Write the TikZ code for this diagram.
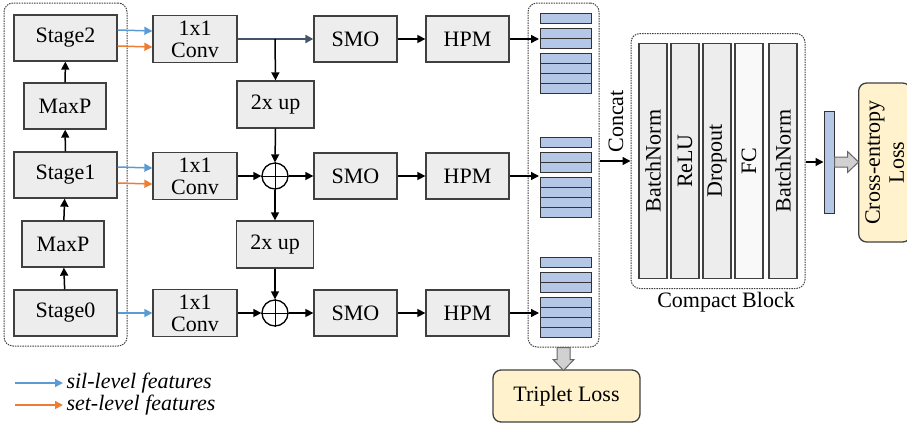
\documentclass[tikz,border=0pt]{standalone}
\usepackage{fontspec}
\setmainfont{Liberation Serif}
\usetikzlibrary{arrows.meta}

\definecolor{boxgray}{HTML}{EDEDED}
\definecolor{barblue}{HTML}{B4C7E7}
\definecolor{silblue}{HTML}{5B9BD5}
\definecolor{setorange}{HTML}{ED7D31}
\definecolor{lossyellow}{HTML}{FFF2CC}
\definecolor{slate}{HTML}{44546A}

\tikzset{
  txt/.style={font=\fontsize{22}{22}\selectfont},
  blk/.style={txt, draw=black!75, fill=boxgray, line width=1.3pt, inner sep=0pt,
    minimum height=46pt, align=center},
  grp/.style={draw=black!75, dash pattern=on 1.5pt off 1pt, rounded corners=9pt,
    line width=1pt, minimum width=#1},
  bar/.style={draw=black!80, fill=barblue, line width=1pt},
  loss/.style={txt, draw=black!75, fill=lossyellow, line width=1.3pt,
    rounded corners=8pt, inner sep=0pt, align=center},
  arr/.style={-{Triangle[length=8pt,width=8pt]}, line width=1.5pt},
  silarr/.style={arr, silblue},
  setarr/.style={arr, setorange},
  fatarr/.style={draw=black!60, fill=black!18, line width=1pt, line join=miter},
}

\begin{document}
\begin{tikzpicture}[x=1pt, y=-1pt]
\useasboundingbox (0,0) rectangle (907,424);

% backbone
\node[grp=123pt, minimum height=343pt] (bb) at (65.5,174.5) {};
\node[blk, minimum width=103pt] (stage2) at (65.5,38) {Stage2};
\node[blk, minimum width=82pt] (maxp1) at (65,106) {MaxP};
\node[blk, minimum width=103pt] (stage1) at (65.5,175) {Stage1};
\node[blk, minimum width=82pt] (maxp0) at (63,244) {MaxP};
\node[blk, minimum width=103pt] (stage0) at (65.5,313) {Stage0};
\draw[arr] (stage0) -- (maxp0);
\draw[arr] (maxp0) -- (stage1);
\draw[arr] (stage1) -- (maxp1);
\draw[arr] (maxp1) -- (stage2);

% pyramid
\node[blk, minimum width=84pt, minimum height=47pt] (conv2) at (195,39) {1x1\\Conv};
\node[blk, minimum width=84pt, minimum height=47pt] (conv1) at (195,176) {1x1\\Conv};
\node[blk, minimum width=84pt, minimum height=47pt] (conv0) at (195,313) {1x1\\Conv};
\draw[silarr] ([yshift=8pt]stage2.east) -- ([yshift=8pt]conv2.west);
\draw[setarr] ([yshift=-8pt]stage2.east) -- ([yshift=-8pt]conv2.west);
\draw[silarr] ([yshift=8pt]stage1.east) -- ([yshift=8pt]conv1.west);
\draw[setarr] ([yshift=-8pt]stage1.east) -- ([yshift=-8pt]conv1.west);
\draw[silarr] (stage0.east) -- (conv0.west);

\node[blk, minimum width=77pt, minimum height=47pt] (up2) at (275.5,104.5) {2x up};
\node[blk, minimum width=77pt, minimum height=47pt] (up1) at (275,244.5) {2x up};
\node[circle, draw, line width=1.3pt, minimum size=26pt, inner sep=0pt] (sum1) at (275,176) {};
\node[circle, draw, line width=1.3pt, minimum size=26pt, inner sep=0pt] (sum0) at (275,313) {};
\draw[line width=1pt] (sum1.north) -- (sum1.south) (sum1.west) -- (sum1.east);
\draw[line width=1pt] (sum0.north) -- (sum0.south) (sum0.west) -- (sum0.east);

\node[blk, minimum width=83pt] (smo2) at (355.5,39) {SMO};
\node[blk, minimum width=83pt] (smo1) at (355.5,176) {SMO};
\node[blk, minimum width=83pt] (smo0) at (355.5,313) {SMO};
\node[blk, minimum width=83pt] (hpm2) at (467.5,39) {HPM};
\node[blk, minimum width=83pt] (hpm1) at (467.5,176) {HPM};
\node[blk, minimum width=83pt] (hpm0) at (467.5,313) {HPM};

\coordinate (br2) at (275,39);
\draw[arr, slate, line width=2.2pt] (conv2.east) -- (smo2.west);
\draw[arr] (br2) -- (up2.north);
\draw[arr] (up2.south) -- (sum1.north);
\draw[arr] (conv1.east) -- (sum1.west);
\draw[arr] (sum1.east) -- (smo1.west);
\draw[arr] (sum1.south) -- (up1.north);
\draw[arr] (up1.south) -- (sum0.north);
\draw[arr] (conv0.east) -- (sum0.west);
\draw[arr] (sum0.east) -- (smo0.west);
\draw[arr] (smo2) -- (hpm2);
\draw[arr] (smo1) -- (hpm1);
\draw[arr] (smo0) -- (hpm0);

% feature stripes
\node[grp=71pt, minimum height=344pt] (cc) at (563.5,175) {};
\foreach \t in {13,137,257}{
  \draw[bar] (540,\t) rectangle +(51,10);
  \foreach \k in {0,1}
    \draw[bar] (540,\t+15+10*\k) rectangle +(51,10);
  \foreach \k in {0,...,3}
    \draw[bar] (540,\t+40+10*\k) rectangle +(51,10);
}
\coordinate (in2) at (539,39);
\coordinate (in1) at (539,176);
\coordinate (in0) at (539,313);
\draw[arr] (hpm2.east) -- (in2);
\draw[arr] (hpm1.east) -- (in1);
\draw[arr] (hpm0.east) -- (in0);

% compact block
\node[grp=174pt, minimum height=255pt] (cb) at (718,161) {};
\node[txt, anchor=north] (cblabel) at (726,289) {Compact Block};
\foreach \x/\name/\lbl/\fl in {653/bn1/BatchNorm/boxgray, 685/relu/ReLU/boxgray,
    717/drop/Dropout/boxgray, 749/fc/FC/boxgray!35, 783/bn2/BatchNorm/boxgray}
  \node[blk, fill=\fl, rotate=90, minimum width=235pt, minimum height=28pt] (\name) at (\x,161) {\lbl};
\draw[arr] (cb.west -| cc.east) -- (cb.west);
\node[txt, rotate=90, anchor=west] (concat) at (616,156) {Concat};

% outputs
\node[bar, minimum width=10pt, minimum height=102pt, inner sep=0pt] (emb) at (829,162) {};
\draw[arr] (cb.east |- emb.west) -- (emb.west);
\node[loss, rotate=90, minimum width=159pt, minimum height=52pt, anchor=north, font=\fontsize{22}{24}\selectfont] (ce) at (858,162.5) {Cross-entropy\\Loss};
\draw[fatarr] (emb.east) ++(0,-5) -- ++(13,0) -- ++(0,-5.5) -- ++(11,10.5)
  -- ++(-11,10.5) -- ++(0,-5.5) -- ++(-13,0) -- cycle;
\node[loss, minimum width=147pt, minimum height=52pt] (trip) at (566.5,396) {Triplet Loss};
\draw[fatarr] (cc.south) ++(-6.5,0) -- ++(0,12) -- ++(-4,0) -- ++(10.5,11)
  -- ++(10.5,-11) -- ++(-4,0) -- ++(0,-12) -- cycle;

% legend
\coordinate (lg1) at (15,383);
\coordinate (lg2) at (15,405);
\node[txt, anchor=west, font=\fontsize{22}{22}\selectfont\itshape] (lgsil) at (63,383) {sil-level features};
\node[txt, anchor=west, font=\fontsize{22}{22}\selectfont\itshape] (lgset) at (63,405) {set-level features};
\draw[silarr] (lg1) -- (lgsil.west);
\draw[setarr] (lg2) -- (lgset.west);
\end{tikzpicture}
\end{document}
